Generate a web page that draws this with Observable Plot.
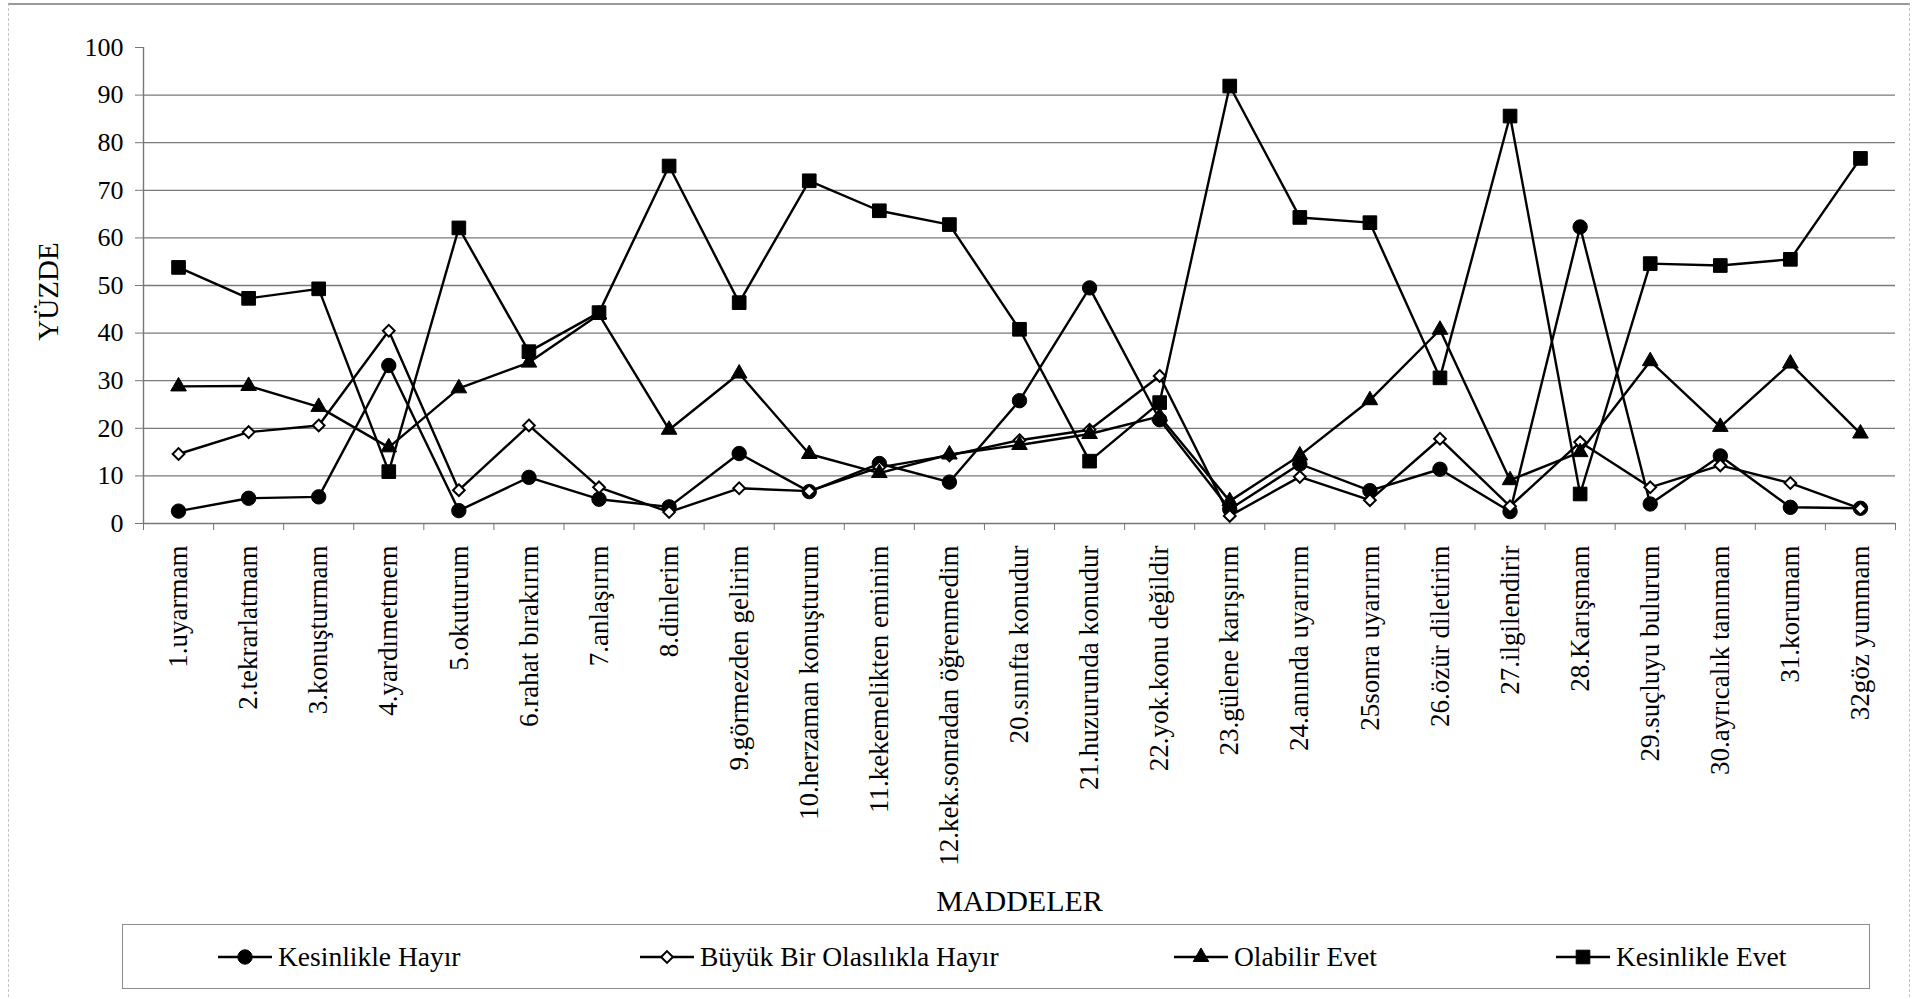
<!DOCTYPE html>
<html>
<head>
<meta charset="utf-8">
<script src="https://cdn.jsdelivr.net/npm/d3@7"></script>
<script src="https://cdn.jsdelivr.net/npm/@observablehq/plot@0.6"></script>
<style>
html, body { margin: 0; padding: 0; background: #fff; }
body { width: 1920px; height: 999px; position: relative; overflow: hidden; font-family: "Liberation Serif", "Times New Roman", serif; }
#frame { position: absolute; left: 8px; top: 3px; width: 1902px; height: 994px; box-sizing: border-box;
  border-top: 2px solid #9a9a9a; border-left: 1px dashed #c4c4c4; border-right: 1px dashed #c4c4c4; }
#chart { position: absolute; left: 0; top: 0; }
#legend { position: absolute; left: 122px; top: 924px; width: 1748px; height: 65px; box-sizing: border-box; border: 1px solid #8c8c8c;
  font-family: "Liberation Serif", "Times New Roman", serif; }
.item { position: absolute; top: 0; height: 100%; display: flex; align-items: center; font-size: 27.5px; color: #000; white-space: nowrap; }
.item svg { margin-right: 6px; }
.item:nth-child(1) { left: 95px; }
.item:nth-child(2) { left: 517px; }
.item:nth-child(3) { left: 1051px; }
.item:nth-child(4) { left: 1433px; }
</style>
</head>
<body>
<div id="frame"></div>
<div id="chart"></div>
<div id="legend"></div>
<script>
// ---- data ----
const categories = [
  "1.uyarmam", "2.tekrarlatmam", "3.konuşturmam", "4.yardımetmem", "5.okuturum",
  "6.rahat bırakırım", "7.anlaşırım", "8.dinlerim", "9.görmezden gelirim", "10.herzaman konuşturum",
  "11.kekemelikten eminim", "12.kek.sonradan öğrenmedim", "20.sınıfta konudur", "21.huzurunda konudur",
  "22.yok.konu değildir", "23.gülene karışırım", "24.anında uyarırım", "25sonra uyarırım",
  "26.özür diletirim", "27.ilgilendirir", "28.Karışmam", "29.suçluyu bulurum",
  "30.ayrıcalık tanımam", "31.korumam", "32göz yummam"
];
const seriesNames = ["Kesinlikle Hayır", "Büyük Bir Olasılıkla Hayır", "Olabilir Evet", "Kesinlikle Evet"];
const kesinlikleHayir = [2.6, 5.3, 5.6, 33.2, 2.7, 9.7, 5.1, 3.5, 14.7, 6.7, 12.6, 8.7, 25.8, 49.5, 21.8, 3.0, 12.5, 6.9, 11.4, 2.5, 62.3, 4.1, 14.2, 3.4, 3.2];
const buyukBirOlasilikla = [14.6, 19.2, 20.6, 40.5, 7.0, 20.6, 7.6, 2.4, 7.4, 6.8, 11.8, 14.3, 17.5, 19.7, 31.0, 1.6, 9.8, 4.9, 17.8, 3.6, 17.1, 7.6, 12.2, 8.5, 3.1];
const olabilirEvet = [28.8, 28.9, 24.5, 16.0, 28.4, 33.8, 43.9, 19.7, 31.5, 14.6, 10.6, 14.5, 16.5, 18.8, 22.5, 4.7, 14.3, 25.9, 40.7, 9.1, 15.0, 34.1, 20.3, 33.6, 18.9];
const kesinlikleEvet = [53.8, 47.3, 49.3, 10.9, 62.1, 36.1, 44.3, 75.1, 46.4, 72.0, 65.7, 62.8, 40.8, 13.1, 25.4, 91.9, 64.3, 63.2, 30.6, 85.6, 6.2, 54.6, 54.2, 55.5, 76.7];
const yTicks = [0, 10, 20, 30, 40, 50, 60, 70, 80, 90, 100];
const xTitle = "MADDELER";
const yTitle = "YÜZDE";

// ---- styling per series ----
const seriesStyle = [
  { symbol: "circle",   fill: "black", r: 7.2 },
  { symbol: "diamond2", fill: "white", r: 5.3 },
  { symbol: "triangle", fill: "black", r: 5.8 },
  { symbol: "square",   fill: "black", r: 7.7 }
];
const seriesValues = [kesinlikleHayir, buyukBirOlasilikla, olabilirEvet, kesinlikleEvet];

const rows = seriesNames.flatMap((name, s) =>
  categories.map((cat, i) => ({ series: name, s, cat, idx: i, value: seriesValues[s][i] })));

const n = categories.length;
const pos = d => d.idx + 0.5;
const axisGray = "#777";
const serif = "Liberation Serif, Times New Roman, serif";

const marks = [
  Plot.gridY({ ticks: yTicks.filter(t => t > 0 && t < 100), stroke: "#7a7a7a", strokeOpacity: 1, strokeWidth: 1.3 }),
  Plot.ruleY([0], { stroke: axisGray, strokeWidth: 1.4 }),
  Plot.ruleX([0], { stroke: axisGray, strokeWidth: 1.4 }),
  Plot.axisY({ ticks: yTicks, tickSize: 8, tickPadding: 12, fontSize: 26, fontFamily: serif, stroke: axisGray, label: null }),
  Plot.axisX({ ticks: d3.range(0, n + 1), tickFormat: () => "", tickSize: 7, stroke: axisGray, label: null }),
  Plot.axisX({ ticks: categories.map((_, i) => i + 0.5), tickFormat: v => categories[Math.round(v - 0.5)],
               tickSize: 0, tickRotate: -90, tickPadding: 22, fontSize: 27, fontFamily: serif, label: null }),
  Plot.text([xTitle], { text: d => d, frameAnchor: "bottom", dy: 378, lineAnchor: "middle", textAnchor: "middle",
                        fontSize: 30, fontFamily: serif }),
  Plot.text([yTitle], { text: d => d, frameAnchor: "left", dx: -95, dy: 6, rotate: -90, lineAnchor: "middle", textAnchor: "middle",
                        fontSize: 29, fontFamily: serif })
];
seriesNames.forEach((name, s) => {
  const data = rows.filter(d => d.s === s);
  const st = seriesStyle[s];
  marks.push(Plot.line(data, { x: pos, y: "value", stroke: "black", strokeWidth: 2.4 }));
  marks.push(Plot.dot(data, { x: pos, y: "value", symbol: () => st.symbol, fill: st.fill, stroke: "black",
                              strokeWidth: st.fill === "white" ? 2 : 1, r: st.r }));
});

const chart = Plot.plot({
  width: 1920,
  height: 915,
  marginLeft: 143,
  marginRight: 25,
  marginTop: 47,
  marginBottom: 392,
  style: { fontFamily: serif, fontSize: "25px", color: "black", background: "transparent", overflow: "visible" },
  x: { type: "linear", domain: [0, n], axis: null },
  y: { domain: [0, 100], axis: null },
  symbol: { type: "identity" },
  marks
});
document.getElementById("chart").appendChild(chart);

// ---- legend ----
const legend = d3.select("#legend");
const symbolMap = { circle: d3.symbolCircle, diamond2: d3.symbolDiamond2, triangle: d3.symbolTriangle, square: d3.symbolSquare };
seriesNames.forEach((name, s) => {
  const st = seriesStyle[s];
  const item = legend.append("div").attr("class", "item");
  const svg = item.append("svg").attr("width", 54).attr("height", 22);
  svg.append("line").attr("x1", 0).attr("x2", 54).attr("y1", 11).attr("y2", 11)
     .attr("stroke", "black").attr("stroke-width", 2.4);
  svg.append("path").attr("transform", "translate(27,11)")
     .attr("d", d3.symbol(symbolMap[st.symbol], Math.PI * st.r * st.r)())
     .attr("fill", st.fill).attr("stroke", "black").attr("stroke-width", st.fill === "white" ? 2 : 1);
  item.append("span").text(name);
});
</script>
</body>
</html>
